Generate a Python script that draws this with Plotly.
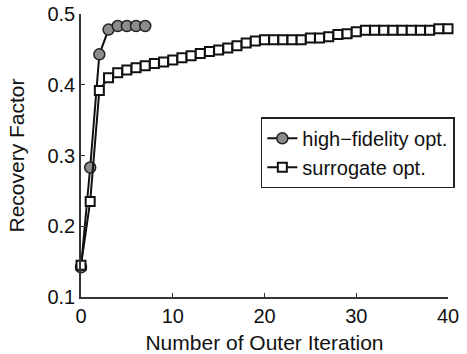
import plotly.graph_objects as go

hf_x = [0, 1, 2, 3, 4, 5, 6, 7]
hf_y = [0.142, 0.283, 0.443, 0.478, 0.483, 0.483, 0.483, 0.483]

sur_x = list(range(0, 41))
sur_y = [0.145, 0.235, 0.392, 0.410, 0.417, 0.421, 0.424, 0.427, 0.430, 0.432,
         0.435, 0.438, 0.441, 0.444, 0.447, 0.449, 0.452, 0.455, 0.459, 0.462,
         0.4635, 0.4635, 0.4635, 0.4635, 0.4635, 0.466, 0.466, 0.468, 0.471, 0.472,
         0.475, 0.477, 0.477, 0.477, 0.477, 0.477, 0.477, 0.477, 0.477, 0.479, 0.479]

x_ticks = [0, 10, 20, 30, 40]
y_ticks = [0.1, 0.2, 0.3, 0.4, 0.5]

FONT = "Liberation Sans, Arial, sans-serif"

fig = go.Figure()
fig.add_trace(go.Scatter(
    x=hf_x, y=hf_y, mode="lines+markers", name="high\u2212fidelity opt.",
    line=dict(color="#111111", width=2),
    marker=dict(symbol="circle", size=11, color="#8c8c8c",
                line=dict(color="#222222", width=1.5)),
    cliponaxis=False))
fig.add_trace(go.Scatter(
    x=sur_x, y=sur_y, mode="lines+markers", name="surrogate opt.",
    line=dict(color="#111111", width=2),
    marker=dict(symbol="square", size=9, color="white",
                line=dict(color="#111111", width=2)),
    cliponaxis=False))

axis_common = dict(
    showgrid=False, zeroline=False, showline=True, linecolor="#333333", linewidth=1.5,
    ticks="inside", ticklen=4, tickcolor="#333333", mirror=False, automargin=False,
    tickfont=dict(family=FONT, size=20, color="#111111"),
)

fig.update_layout(
    width=467, height=354,
    margin=dict(l=81, r=15, t=14, b=57),
    paper_bgcolor="white", plot_bgcolor="white",
    font=dict(family=FONT, size=20, color="#111111"),
    xaxis=dict(range=[0, 40], tickvals=x_ticks, ticktext=[str(v) for v in x_ticks],
               title=dict(text="Number of Outer Iteration", standoff=10,
                          font=dict(size=21)), **axis_common),
    yaxis=dict(range=[0.1, 0.5], tickvals=y_ticks, ticktext=[f"{v:.1f}" for v in y_ticks],
               title=dict(text="Recovery Factor", standoff=17, font=dict(size=21)),
               **axis_common),
    legend=dict(x=0.49, y=0.635, xanchor="left", yanchor="top",
                bordercolor="#222222", borderwidth=1.5, bgcolor="white",
                font=dict(size=20), tracegroupgap=0, itemwidth=30),
    showlegend=True,
)

fig.write_html("out.html")
